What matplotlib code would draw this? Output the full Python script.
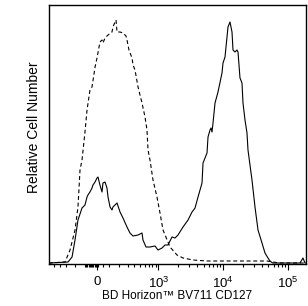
import matplotlib
matplotlib.use("Agg")
import matplotlib.pyplot as plt
import numpy as np

plt.rcParams['font.family'] = ['Liberation Sans', 'DejaVu Sans']
plt.rcParams['mathtext.fontset'] = 'custom'
plt.rcParams['mathtext.rm'] = 'Liberation Sans'
plt.rcParams['mathtext.it'] = 'Liberation Sans:italic'

# fluorescence intensity (x) and relative counts (y)
iso_x = [-609, -320, -255, -198, -167, -147, -128, -101, -83, -58, -41, -16, 0, 24, 41,
         49, 66, 92, 128, 137, 157, 167, 177, 209, 243, 280, 293, 320, 364, 380, 412,
         465, 543, 609, 656, 682, 734, 820, 949, 1059, 1181, 1518, 1950, 2415, 3449,
         5663, 9982, 47440, 58670, 75190, 188900]
iso_y = [0, 1, 13, 33, 56, 93, 103, 131, 153, 173, 176, 196, 205, 221, 223,
         220, 225, 228, 231, 236, 241, 243, 231, 231, 230, 227, 223, 213, 205, 198, 193,
         176, 160, 146, 133, 113, 103, 83, 66, 50, 33, 16, 8, 5, 3,
         2, 2, 2, 1, 0, 0]

cd127_x = [-609, -280, -231, -198, -167, -128, -101, -83, -75, -58, -41, -33, -16, 0, 8,
           24, 41, 49, 66, 83, 92, 110, 128, 137, 177, 209, 243, 293, 334, 380, 465,
           543, 564, 632, 734, 883, 985, 1139, 1269, 1413, 1631, 1816, 2021, 2415, 2889,
           3327, 3702, 4117, 4744, 4915, 5663, 5867, 6299, 6526, 6760, 7004, 7519, 8360,
           9634, 9982, 10716, 11500, 11916, 12790, 13730, 14227, 15272, 16393, 16986,
           18228, 19562, 20270, 21760, 23356, 24200, 27880, 31010, 34500, 39740, 44180,
           49150, 52740, 58000, 152700, 169800, 182300, 188900]
cd127_y = [0, 1, 6, 23, 43, 55, 58, 66, 68, 71, 75, 78, 81, 85, 86,
           78, 71, 80, 81, 75, 66, 56, 53, 56, 60, 51, 45, 36, 30, 27, 28,
           30, 23, 16, 16, 17, 13, 15, 18, 18, 26, 25, 28, 36, 43,
           51, 55, 66, 80, 100, 110, 126, 133, 135, 131, 140, 160, 171,
           190, 200, 206, 226, 236, 241, 231, 213, 211, 213, 211,
           185, 180, 160, 143, 130, 113, 83, 56, 33, 20, 10,
           5, 2, 0, 0, 5, 0, 0]

major_ticks = [0, 1e3, 1e4, 1e5]
major_labels = ['0', '$10^{3}$', '$10^{4}$', '$10^{5}$']
minor_ticks = ([-500, -400, -300, -200, -100] + list(range(-90, 0, 10)) + [10, 50]
               + list(range(100, 1000, 100)) + list(range(2000, 10000, 1000))
               + list(range(20000, 100000, 10000)))

W = 230.0


def fwd(v):
    return np.arcsinh(np.asarray(v) / W)


def inv(v):
    return W * np.sinh(np.asarray(v))


fig = plt.figure(figsize=(3.08, 3.06), dpi=100)
ax = fig.add_axes([49 / 308, 42 / 306, 257 / 308, 259 / 306])
ax.set_xscale('function', functions=(fwd, inv))

ax.plot(iso_x, iso_y, color='black', lw=0.8, linestyle=(0, (3.5, 2.5)))
ax.plot(cd127_x, cd127_y, color='black', lw=0.8)

ax.set_xlim(-609, 188900)
ax.set_ylim(-1, 258)

ax.set_xticks(major_ticks)
ax.set_xticklabels(major_labels)
ax.set_xticks(minor_ticks, minor=True)
ax.set_yticks([])
ax.tick_params(axis='x', which='major', length=4.5, width=0.8, labelsize=9.5, pad=4)
ax.tick_params(axis='x', which='minor', length=2.5, width=0.8)
for s in ax.spines.values():
    s.set_linewidth(1.0)

ax.set_xlabel('BD Horizon™ BV711 CD127', fontsize=8.5, labelpad=-1)
ax.set_ylabel('Relative Cell Number', fontsize=10)
ax.yaxis.set_label_coords(-0.03, 0.53)

fig.savefig('out.png', dpi=100)
